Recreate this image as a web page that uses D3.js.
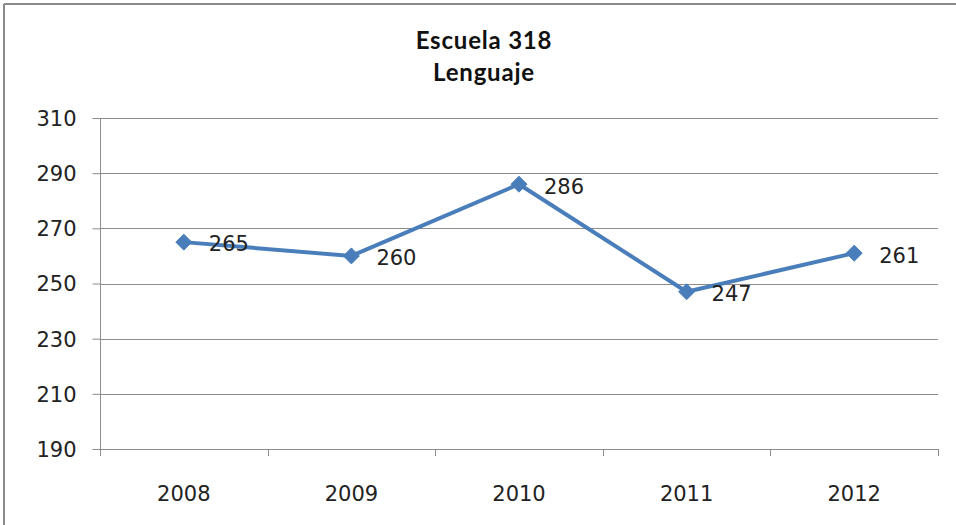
<!DOCTYPE html>
<html><head><meta charset="utf-8">
<script src="https://cdn.jsdelivr.net/npm/d3@7"></script>
<style>body{margin:0;background:#fff}svg{display:block}</style>
</head><body>
<script>
const titleLines = ["Escuela 318", "Lenguaje"];
const years = ["2008", "2009", "2010", "2011", "2012"];
const values = [265, 260, 286, 247, 261];
const yTicks = [190, 210, 230, 250, 270, 290, 310];

const W = 956, H = 525;
const m = {left: 100, right: 18, top: 118, bottom: 76};
const svg = d3.select("body").append("svg").attr("width", W).attr("height", H);

// outer frame (top and left visible)
svg.append("line").attr("x1", 4).attr("x2", W).attr("y1", 4).attr("y2", 4)
  .attr("stroke", "#8a8a8a").attr("stroke-width", 2);
svg.append("line").attr("x1", 4).attr("x2", 4).attr("y1", 4).attr("y2", H)
  .attr("stroke", "#8a8a8a").attr("stroke-width", 2);

const x = d3.scaleBand().domain(years).range([m.left, W - m.right]);
const y = d3.scaleLinear().domain([190, 310]).range([H - m.bottom, m.top]);

const font = "'DejaVu Sans', Verdana, sans-serif";

// gridlines
svg.append("g").selectAll("line").data(yTicks).join("line")
  .attr("x1", m.left).attr("x2", W - m.right)
  .attr("y1", d => Math.round(y(d)) + 0.5).attr("y2", d => Math.round(y(d)) + 0.5)
  .attr("stroke", "#8c8c8c").attr("stroke-width", 1);

// y axis
const ya = svg.append("g").attr("transform", `translate(${m.left + 0.5},0)`)
  .call(d3.axisLeft(y).tickValues(yTicks).tickSize(8).tickPadding(16).tickFormat(d3.format("d")));
ya.select(".domain").attr("stroke", "#8c8c8c").attr("d", `M0,${m.top}V${H - m.bottom + 7}`);
ya.selectAll(".tick line").attr("stroke", "#8c8c8c");
ya.selectAll(".tick text").attr("font-family", font).attr("font-size", 21).attr("fill", "#222").attr("dy", "0.35em");

// x axis
const xa = svg.append("g").attr("transform", `translate(0,${Math.round(y(190)) + 0.5})`)
  .call(d3.axisBottom(x).tickSize(0).tickPadding(37));
xa.select(".domain").attr("stroke", "#8c8c8c").attr("d", `M${m.left},0H${W - m.right}`);
xa.selectAll(".tick text").attr("font-family", font).attr("font-size", 21).attr("fill", "#222");
// band boundary ticks
const bounds = years.map(d => x(d)).concat([x(years[years.length - 1]) + x.bandwidth()]);
svg.append("g").selectAll("line").data(bounds.slice(1)).join("line")
  .attr("x1", d => Math.round(d) + 0.5).attr("x2", d => Math.round(d) + 0.5)
  .attr("y1", Math.round(y(190))).attr("y2", Math.round(y(190)) + 7)
  .attr("stroke", "#8c8c8c");

// line
const cx = (d, i) => x(years[i]) + x.bandwidth() / 2;
const line = d3.line().x((d, i) => cx(d, i)).y(d => y(d));
svg.append("path").datum(values).attr("d", line)
  .attr("fill", "none").attr("stroke", "#4a7ebb").attr("stroke-width", 4).attr("stroke-linejoin", "round");

// markers
svg.append("g").selectAll("path").data(values).join("path")
  .attr("d", (d, i) => {
    const px = cx(d, i), py = y(d), r = 8;
    return `M${px},${py - r}L${px + r},${py}L${px},${py + r}L${px - r},${py}Z`;
  })
  .attr("fill", "#4a7ebb").attr("stroke", "#4a7ebb").attr("stroke-width", 1);

// value labels
svg.append("g").selectAll("text").data(values).join("text")
  .attr("x", (d, i) => cx(d, i) + 25).attr("y", d => y(d) + 2)
  .attr("dy", "0.35em")
  .attr("font-family", font).attr("font-size", 21).attr("fill", "#222")
  .text(d => d);

// title
svg.append("g").selectAll("text").data(titleLines).join("text")
  .attr("x", 484).attr("y", (d, i) => 49 + i * 32)
  .attr("text-anchor", "middle")
  .attr("font-family", "Lato, 'Open Sans', sans-serif").attr("font-weight", "bold")
  .attr("font-size", 24).attr("letter-spacing", 0.8).attr("fill", "#111")
  .text(d => d);
</script>
</body></html>
